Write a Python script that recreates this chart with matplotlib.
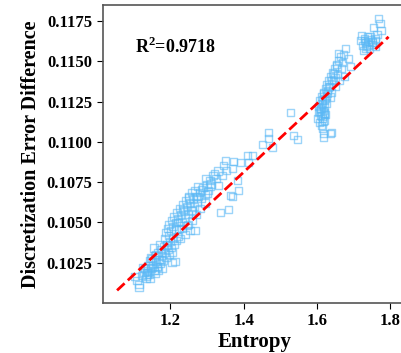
import matplotlib
matplotlib.use("Agg")
import matplotlib.pyplot as plt
import numpy as np

plt.rcParams['font.family'] = ['Liberation Serif', 'DejaVu Serif']
plt.rcParams['font.weight'] = 'bold'
plt.rcParams['mathtext.fontset'] = 'custom'
plt.rcParams['mathtext.rm'] = 'Liberation Serif:bold'
plt.rcParams['mathtext.bf'] = 'Liberation Serif:bold'

# lower cluster
entropy_low = [1.1035, 1.1142, 1.1142, 1.1334, 1.1225, 1.128, 1.1307, 1.1362, 1.1389, 1.1416,
               1.1444, 1.1471, 1.1499, 1.1526, 1.1553, 1.1581, 1.1608, 1.1636, 1.1663, 1.169,
               1.1718, 1.1745, 1.1773, 1.18, 1.1827, 1.1855, 1.1882, 1.191, 1.1937, 1.1964,
               1.1992, 1.2019, 1.2047, 1.2074, 1.2101, 1.2156, 1.2211, 1.2266, 1.232, 1.1334,
               1.1444, 1.1581, 1.1663, 1.1773, 1.2129, 1.2047, 1.1088, 1.1389,
               1.125, 1.135, 1.150, 1.160, 1.170, 1.185, 1.195, 1.145, 1.155, 1.175,
               1.165, 1.190]
err_low = [0.10165, 0.10115, 0.10097, 0.10153, 0.10171, 0.1019, 0.10215, 0.10202, 0.10233, 0.10177,
           0.10264, 0.10215, 0.10277, 0.10239, 0.10202, 0.10295, 0.10258, 0.10227, 0.10314, 0.1027,
           0.10246, 0.10332, 0.10295, 0.10264, 0.10351, 0.10314, 0.10283, 0.10363, 0.10332, 0.10301,
           0.10382, 0.10345, 0.10314, 0.10401, 0.10363, 0.10388, 0.10413, 0.10401, 0.10463, 0.10165,
           0.10153, 0.10184, 0.10202, 0.10215, 0.10258, 0.10252, 0.10140, 0.10190,
           0.1022, 0.1018, 0.1022, 0.1030, 0.1036, 0.1040, 0.1042, 0.1028, 0.1034, 0.1027,
           0.1022, 0.1036]

# middle cluster
entropy_mid = [1.1882, 1.1937, 1.1964, 1.2019, 1.2047, 1.2074, 1.2101, 1.2156, 1.2184, 1.2211,
               1.2239, 1.2266, 1.2293, 1.232, 1.2348, 1.2375, 1.2403, 1.243, 1.2458, 1.2485,
               1.2512, 1.254, 1.2567, 1.2595, 1.2622, 1.2649, 1.2677, 1.2704, 1.2732, 1.2759,
               1.2814, 1.2841, 1.2896, 1.2951, 1.3005, 1.3033, 1.3088, 1.2485, 1.2595, 1.2704,
               1.2814, 1.2403, 1.254, 1.2677, 1.317, 1.3252, 1.3416, 1.3444, 1.3526, 1.369,
               1.3827, 1.3636, 1.3718, 1.391, 1.4129, 1.4101, 1.4238, 1.3362, 1.3581, 1.3855,
               1.369, 1.3307, 1.3499, 1.2978, 1.3088,
               1.22, 1.235, 1.25, 1.26, 1.275, 1.285, 1.295, 1.30, 1.31, 1.32,
               1.33, 1.245, 1.215]
err_mid = [0.10438, 0.10463, 0.10488, 0.10450, 0.10512, 0.10475, 0.10537, 0.10500, 0.10562, 0.10525,
           0.10463, 0.10587, 0.10550, 0.10500, 0.10612, 0.10574, 0.10525, 0.10636, 0.10599, 0.10550,
           0.10661, 0.10624, 0.10574, 0.10686, 0.10649, 0.10599, 0.10698, 0.10661, 0.10624, 0.10723,
           0.10686, 0.10649, 0.10717, 0.10674, 0.10736, 0.10698, 0.10723, 0.10488, 0.10512, 0.10550,
           0.10587, 0.10426, 0.10450, 0.10450, 0.10792, 0.10773, 0.10792, 0.10854, 0.10823, 0.10835,
           0.1076, 0.10667, 0.10878, 0.10872, 0.10872, 0.10916, 0.10916, 0.10562, 0.1058, 0.10698,
           0.10661, 0.10729, 0.10885, 0.10773, 0.10760,
           0.1050, 0.1058, 0.1065, 0.1057, 0.1066, 0.1070, 0.1062, 0.1068, 0.1074, 0.1080,
           0.1082, 0.1048, 0.1046]

# transition points
entropy_gap = [1.4512, 1.4677, 1.4677, 1.4786, 1.5279, 1.5362, 1.5471]
err_gap = [0.10984, 0.11058, 0.11021, 0.10965, 0.11182, 0.1104, 0.11015]

# upper cluster
entropy_high = [1.6019, 1.6047, 1.6047, 1.6074, 1.6074, 1.6101, 1.6101, 1.6129, 1.6129, 1.6156,
                1.6156, 1.6184, 1.6184, 1.6211, 1.6211, 1.6238, 1.6238, 1.6266, 1.6156, 1.6184,
                1.6403, 1.6184, 1.6375, 1.6266, 1.6293, 1.6321, 1.6348, 1.6375, 1.6403, 1.643,
                1.6458, 1.6485, 1.6512, 1.654, 1.6567, 1.6595, 1.6622, 1.6649, 1.6677, 1.6704,
                1.6732, 1.6786, 1.6759, 1.6868, 1.6923, 1.6595, 1.6129, 1.6074, 1.6211,
                1.612, 1.615, 1.617, 1.619, 1.621, 1.623, 1.625, 1.614, 1.620, 1.628,
                1.632, 1.636, 1.640, 1.645, 1.650, 1.655]
err_high = [0.11145, 0.11182, 0.11219, 0.11120, 0.11257, 0.11164, 0.11207, 0.11281, 0.11102, 0.11145,
            0.11232, 0.11195, 0.11306, 0.11257, 0.11133, 0.11331, 0.1117, 0.11281, 0.11083, 0.11052,
            0.11058, 0.11027, 0.11052, 0.11356, 0.11319, 0.11381, 0.11344, 0.11406, 0.11306, 0.11431,
            0.11381, 0.11455, 0.11344, 0.1148, 0.11418, 0.11505, 0.11381, 0.1153, 0.11455, 0.11492,
            0.11542, 0.1158, 0.11406, 0.11517, 0.11467, 0.11548, 0.11233, 0.11190, 0.11170,
            0.1120, 0.1126, 0.1113, 0.1122, 0.1118, 0.1127, 0.1124, 0.1116, 0.1130, 0.1130,
            0.1134, 0.1128, 0.1138, 0.1142, 0.1140, 0.1147]

# top cluster
entropy_top = [1.7197, 1.7225, 1.7252, 1.7279, 1.7307, 1.7334, 1.7362, 1.7389, 1.7416, 1.7444,
               1.7471, 1.7499, 1.7526, 1.7553, 1.7581, 1.7608, 1.7636, 1.769, 1.7718, 1.7745,
               1.730, 1.740, 1.745, 1.750, 1.735, 1.760]
err_top = [0.11629, 0.1166, 0.11598, 0.11567, 0.11641, 0.11616, 0.11592, 0.11654, 0.11623, 0.1158,
           0.11635, 0.11604, 0.11616, 0.1171, 0.11641, 0.11592, 0.11666, 0.11766, 0.11735, 0.11691,
           0.1163, 0.1160, 0.1165, 0.1162, 0.1158, 0.1163]

fit_slope = 0.0212
fit_intercept = 0.07844
fit_range = [1.054, 1.796]
r2_text = "R$^2$=0.9718"

entropy = np.array(entropy_low + entropy_mid + entropy_gap + entropy_high + entropy_top)
err = np.array(err_low + err_mid + err_gap + err_high + err_top)

fig = plt.figure(figsize=(4.01, 3.53), dpi=100)
ax = fig.add_axes([0.2569, 0.1416, 0.755, 0.8442])

ax.scatter(entropy, err, marker='s', s=30, facecolors='none',
           edgecolors='#5ab8f5', linewidths=1.0, alpha=0.6)

xf = np.array(fit_range)
ax.plot(xf, fit_slope * xf + fit_intercept, color='#ff0000', ls='--', lw=2.0)

ax.text(1.103, 0.11591, r2_text, fontsize=13, fontweight='bold', va='center')

ax.set_xlim(1.0156, 1.843)
ax.set_ylim(0.1, 0.11849)
ax.set_xticks([1.2, 1.4, 1.6, 1.8])
ax.set_yticks([0.1025, 0.1050, 0.1075, 0.1100, 0.1125, 0.1150, 0.1175])
ax.set_yticklabels(['0.1025', '0.1050', '0.1075', '0.1100', '0.1125', '0.1150', '0.1175'])
ax.tick_params(labelsize=12, length=4, direction='out')
for lab in ax.get_xticklabels() + ax.get_yticklabels():
    lab.set_fontweight('bold')
for sp in ax.spines.values():
    sp.set_color('#555555')
    sp.set_linewidth(1.2)

ax.set_xlabel('Entropy', fontsize=15, fontweight='bold', labelpad=2)
ax.set_ylabel('Discretization Error Difference', fontsize=14.5, fontweight='bold', labelpad=4)

fig.savefig('out.png', dpi=100)
